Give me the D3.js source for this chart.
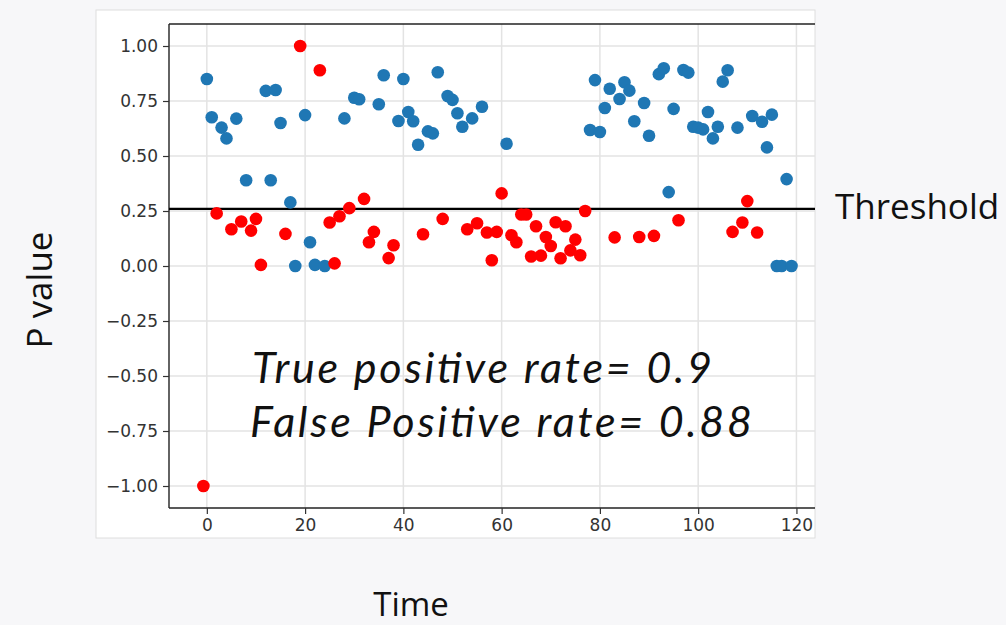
<!DOCTYPE html>
<html>
<head>
<meta charset="utf-8">
<script src="https://cdn.jsdelivr.net/npm/d3@7"></script>
<style>
  body { margin: 0; background: #f7f7f9; }
  #chart { width: 1006px; height: 625px; }
</style>
</head>
<body>
<div id="chart"></div>
<script>
// time steps
const blueTimes = [0, 1, 3, 4, 6, 8, 12, 13, 14, 15, 17, 18, 20, 21, 22, 24, 28, 30, 31, 35,
    36, 39, 40, 41, 42, 43, 45, 46, 47, 49, 50, 51, 52, 54, 56, 61, 78, 79, 80, 81,
    82, 84, 85, 86, 87, 89, 90, 92, 93, 94, 95, 97, 98, 99, 100, 101, 102, 103, 104, 105,
    106, 108, 111, 113, 114, 115, 116, 117, 118, 119];
const blueValues = [0.85, 0.676, 0.629, 0.58, 0.67, 0.39, 0.796, 0.39, 0.80, 0.65, 0.289, 0.0, 0.686, 0.108, 0.005, 0.0, 0.671, 0.765, 0.758, 0.735,
    0.867, 0.659, 0.85, 0.70, 0.658, 0.551, 0.612, 0.603, 0.881, 0.773, 0.755, 0.694, 0.633, 0.671, 0.724, 0.556, 0.618, 0.845, 0.609, 0.718,
    0.806, 0.759, 0.835, 0.797, 0.658, 0.741, 0.592, 0.872, 0.899, 0.336, 0.714, 0.891, 0.879, 0.633, 0.629, 0.621, 0.70, 0.58, 0.633, 0.838,
    0.89, 0.629, 0.682, 0.656, 0.539, 0.688, 0.0, 0.0, 0.395, 0.0];

const redTimes = [-0.7, 2, 5, 7, 9, 10, 11, 16, 19, 23, 25, 26, 27, 29, 32, 33, 34, 37, 38, 44,
    48, 53, 55, 57, 58, 59, 60, 62, 63, 64, 65, 66, 67, 68, 69, 70, 71, 72, 73, 74,
    75, 76, 77, 83, 88, 91, 96, 107, 109, 110, 112];
const redValues = [-1.0, 0.239, 0.167, 0.202, 0.161, 0.214, 0.005, 0.146, 1.0, 0.89, 0.198, 0.012, 0.226, 0.263, 0.305, 0.108, 0.155, 0.036, 0.094, 0.144,
    0.214, 0.167, 0.194, 0.152, 0.026, 0.155, 0.33, 0.14, 0.108, 0.234, 0.234, 0.043, 0.181, 0.047, 0.132, 0.091, 0.199, 0.035, 0.181, 0.071,
    0.12, 0.049, 0.25, 0.13, 0.132, 0.137, 0.208, 0.155, 0.198, 0.295, 0.152];

const threshold = 0.26;
const xTicks = [0, 20, 40, 60, 80, 100, 120];
const yTicks = [1.0, 0.75, 0.5, 0.25, 0.0, -0.25, -0.5, -0.75, -1.0];
const rateLines = ["True positive rate= 0.9", "False Positive rate= 0.88"];

const svg = d3.select("#chart")
    .append("svg")
    .attr("width", 1006)
    .attr("height", 625);

// white card behind the plot
svg.append("rect")
    .attr("x", 96).attr("y", 10)
    .attr("width", 719).attr("height", 528)
    .attr("fill", "white")
    .attr("stroke", "#dedede");

svg.append("clipPath").attr("id", "card")
    .append("rect")
    .attr("x", 96).attr("y", 10)
    .attr("width", 719).attr("height", 528);

const x = d3.scaleLinear().domain([-7.7, 125]).range([169, 821]);
const y = d3.scaleLinear().domain([-1.1, 1.1]).range([508, 24]);

const plot = svg.append("g").attr("clip-path", "url(#card)");

// grid
plot.append("g")
    .selectAll("line")
    .data(xTicks)
    .join("line")
    .attr("x1", d => x(d)).attr("x2", d => x(d))
    .attr("y1", y.range()[1]).attr("y2", y.range()[0])
    .attr("stroke", "#e3e3e3")
    .attr("stroke-width", 1.5);

plot.append("g")
    .selectAll("line")
    .data(yTicks)
    .join("line")
    .attr("x1", x.range()[0]).attr("x2", x.range()[1])
    .attr("y1", d => y(d)).attr("y2", d => y(d))
    .attr("stroke", "#e3e3e3")
    .attr("stroke-width", 1.5);

// axes
const xAxis = svg.append("g")
    .attr("transform", `translate(0,${y.range()[0]})`)
    .call(d3.axisBottom(x).tickValues(xTicks).tickFormat(d3.format("d")).tickSize(6).tickPadding(5));

const yAxis = svg.append("g")
    .attr("transform", `translate(${x.range()[0]},0)`)
    .call(d3.axisLeft(y).tickValues(yTicks).tickFormat(d => d3.format(".2f")(d).replace("-", "\u2212")).tickSize(6).tickPadding(5));

[xAxis, yAxis].forEach(a => {
    a.select(".domain").remove();
    a.selectAll("line").attr("stroke", "#333").attr("stroke-width", 1.2);
    a.selectAll("text")
        .attr("fill", "#333")
        .style("font-family", "DejaVu Sans")
        .style("font-size", "17px");
});

// spines: left, bottom and top (right edge is cut off by the card)
plot.append("line")
    .attr("x1", x.range()[0]).attr("x2", x.range()[0])
    .attr("y1", y.range()[1]).attr("y2", y.range()[0])
    .attr("stroke", "#222").attr("stroke-width", 1.4);
plot.append("line")
    .attr("x1", x.range()[0]).attr("x2", x.range()[1])
    .attr("y1", y.range()[0]).attr("y2", y.range()[0])
    .attr("stroke", "#222").attr("stroke-width", 1.4);
plot.append("line")
    .attr("x1", x.range()[0]).attr("x2", x.range()[1])
    .attr("y1", y.range()[1]).attr("y2", y.range()[1])
    .attr("stroke", "#222").attr("stroke-width", 1.4);

// threshold line
plot.append("line")
    .attr("x1", x.range()[0]).attr("x2", x.range()[1])
    .attr("y1", y(threshold)).attr("y2", y(threshold))
    .attr("stroke", "black")
    .attr("stroke-width", 2.2);

// points
const blueData = blueTimes.map((t, i) => ({ t: t, p: blueValues[i] }));
const redData = redTimes.map((t, i) => ({ t: t, p: redValues[i] }));

plot.append("g")
    .selectAll("circle")
    .data(blueData)
    .join("circle")
    .attr("cx", d => x(d.t))
    .attr("cy", d => y(d.p))
    .attr("r", 6.3)
    .attr("fill", "#1f77b4");

plot.append("g")
    .selectAll("circle")
    .data(redData)
    .join("circle")
    .attr("cx", d => x(d.t))
    .attr("cy", d => y(d.p))
    .attr("r", 6.3)
    .attr("fill", "#ff0000");

// rate annotation
const widths = [460, 502];
const baselines = [383, 437];
svg.append("g")
    .selectAll("text")
    .data(rateLines)
    .join("text")
    .attr("x", (d, i) => i === 0 ? 252 : 250)
    .attr("y", (d, i) => baselines[i])
    .attr("textLength", (d, i) => widths[i])
    .style("font-family", "Lato, 'Open Sans', sans-serif")
    .style("font-style", "italic")
    .style("font-size", "43px")
    .attr("fill", "#111")
    .text(d => d);

// labels
svg.append("text")
    .attr("x", 835)
    .attr("y", 219)
    .style("font-family", "'Open Sans', sans-serif")
    .style("font-size", "35px")
    .attr("fill", "#111")
    .text("Threshold");

svg.append("text")
    .attr("transform", "rotate(-90)")
    .attr("x", -290)
    .attr("y", 52)
    .attr("text-anchor", "middle")
    .style("font-family", "'Open Sans', sans-serif")
    .style("font-size", "35px")
    .attr("fill", "#111")
    .text("P value");

svg.append("text")
    .attr("x", 411)
    .attr("y", 616)
    .attr("text-anchor", "middle")
    .style("font-family", "'Open Sans', sans-serif")
    .style("font-size", "33px")
    .attr("fill", "#111")
    .text("Time");
</script>
</body>
</html>
